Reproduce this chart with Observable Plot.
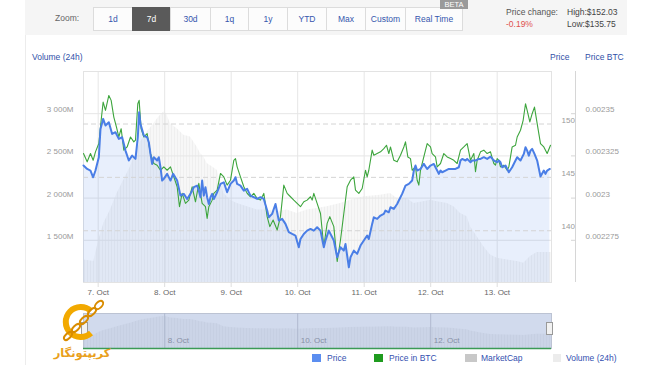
<!DOCTYPE html>
<html><head><meta charset="utf-8">
<script src="https://cdn.jsdelivr.net/npm/d3@7"></script>
<script src="https://cdn.jsdelivr.net/npm/@observablehq/plot@0.6"></script>
<style>
body{margin:0;background:#fff;font-family:"Liberation Sans",Arial,sans-serif;}
#root{position:relative;width:650px;height:365px;overflow:hidden;background:#fff;}
.abs{position:absolute;}
.btn{position:absolute;top:7px;height:22px;border:1px solid #dcdcdc;background:#fcfcfc;color:#3556ad;font-size:8.5px;display:flex;align-items:center;justify-content:center;box-sizing:content-box;}
.btn.on{background:#5a5a5a;color:#fff;border-color:#5a5a5a;}
.t{position:absolute;font-size:8.5px;white-space:nowrap;}
.layer{position:absolute;left:0;top:60px;}
.sq{position:absolute;top:354px;height:8px;}
</style></head><body>
<svg width="0" height="0" style="position:absolute"><defs>
<pattern id="vstripe" width="3" height="10" patternUnits="userSpaceOnUse">
<rect width="3" height="10" fill="rgba(0,0,0,0.032)"/><rect width="1" height="10" fill="rgba(0,0,0,0.03)"/>
</pattern></defs></svg>
<div id="root">
  <div class="abs" style="left:25px;top:0;width:1px;height:365px;background:#ececec"></div>
  <div class="abs" style="left:25px;top:0;width:602px;height:35px;background:#f5f5f5"></div>
  <div class="t" style="left:55px;top:13px;color:#666">Zoom:</div>
  <div class="btn" style="left:93px;width:38px">1d</div>
  <div class="btn on" style="left:132px;width:37px">7d</div>
  <div class="btn" style="left:170px;width:39px">30d</div>
  <div class="btn" style="left:210px;width:37px">1q</div>
  <div class="btn" style="left:248px;width:38px">1y</div>
  <div class="btn" style="left:287px;width:38px">YTD</div>
  <div class="btn" style="left:326px;width:38px">Max</div>
  <div class="btn" style="left:365px;width:39px">Custom</div>
  <div class="btn" style="left:405px;width:56px">Real Time</div>
  <div class="abs" style="left:440px;top:0;width:28px;height:9px;background:#9a9a9a;color:#fff;font-size:7.5px;line-height:9px;text-align:center">BETA</div>
  <div class="t" style="left:506px;top:7px;color:#555">Price change:</div>
  <div class="t" style="left:506px;top:19px;color:#e0514f">-0.19%</div>
  <div class="t" style="left:567px;top:7px;color:#444">High:$152.03</div>
  <div class="t" style="left:567px;top:19px;color:#444">Low:$135.75</div>
  <div class="t" style="left:32px;top:52px;color:#3050a8">Volume (24h)</div>
  <div class="t" style="left:550px;top:52px;color:#3050a8">Price</div>
  <div class="t" style="left:585px;top:52px;color:#3050a8">Price BTC</div>
  <div id="l1" class="layer"></div>
  <div id="l2" class="layer"></div>
  <div id="l3" class="layer"></div>
  <div id="l4" class="layer"></div>
  <div id="nav" class="abs" style="left:0;top:305px"></div>
  <div class="abs" style="left:81px;top:322px;width:5px;height:11px;background:#f2f2f2;border:1px solid #999"></div>
  <div class="abs" style="left:546px;top:322px;width:5px;height:11px;background:#f2f2f2;border:1px solid #999"></div>
  <svg class="abs" style="left:50px;top:296px" width="65" height="50">
    <path d="M41,15 A15,15 0 1,0 41,37" fill="none" stroke="#f2a900" stroke-width="6"/>
    <g fill="none" stroke="#d98c00" stroke-width="2">
      <ellipse cx="18" cy="40" rx="5" ry="2.5" transform="rotate(-45 18 40)"/>
      <ellipse cx="26" cy="32" rx="5" ry="2.5" transform="rotate(-45 26 32)"/>
      <ellipse cx="34" cy="24" rx="5" ry="2.5" transform="rotate(-45 34 24)"/>
      <ellipse cx="42" cy="16" rx="5" ry="2.5" transform="rotate(-45 42 16)"/>
      <ellipse cx="49" cy="9" rx="5" ry="3" transform="rotate(-45 49 9)"/>
    </g>
  </svg>
  <div class="abs" style="left:50px;top:346px;width:64px;text-align:center;direction:rtl;font-family:'DejaVu Sans';font-weight:bold;font-size:11.5px;color:#e9a01c">کریپتونگار</div>
  <div class="sq" style="left:312px;width:9px;background:#5b8ef0"></div>
  <div class="t" style="left:327px;top:353px;color:#3350b0">Price</div>
  <div class="sq" style="left:374px;width:9px;background:#1f9b1f"></div>
  <div class="t" style="left:389px;top:353px;color:#3350b0">Price in BTC</div>
  <div class="sq" style="left:465px;width:12px;background:#c8c8c8"></div>
  <div class="t" style="left:481px;top:353px;color:#3350b0">MarketCap</div>
  <div class="sq" style="left:553px;width:8px;background:#ececec"></div>
  <div class="t" style="left:566px;top:353px;color:#3350b0">Volume (24h)</div>
</div>
<script>
// hours from 7 Oct 00:00, price in USD
const priceSeries = [[-5.3,146.11],[-3.98,145.79],[-2.78,145.64],[-1.82,145.01],[-0.98,145.64],[0.23,146.89],[0.83,149.54],[1.79,150.48],[2.63,149.86],[3.84,150.17],[5.04,149.07],[6.24,149.23],[7.44,148.61],[8.65,148.76],[9.85,147.51],[11.05,146.58],[12.26,147.04],[13.46,146.73],[14.3,148.76],[14.78,151.10],[15.26,150.01],[16.47,148.92],[17.67,148.76],[18.27,148.29],[18.87,147.20],[19.47,146.26],[20.08,146.89],[21.28,146.58],[21.88,146.89],[22.48,145.95],[23.08,144.70],[23.69,144.86],[24.89,145.33],[26.09,144.70],[27.05,145.33],[28.5,144.70],[29.7,143.29],[30.9,143.45],[32.1,142.98],[33.3,143.45],[34.51,144.08],[35.71,144.23],[36.31,143.76],[36.92,143.14],[37.52,144.70],[38.12,143.29],[38.72,144.08],[39.32,143.14],[39.93,142.51],[40.53,143.14],[41.13,143.45],[41.73,142.98],[42.93,143.61],[44.14,144.39],[45.34,144.54],[46.54,143.61],[47.75,144.39],[48.95,144.70],[49.55,145.01],[50.15,144.39],[51.35,144.23],[52.56,143.76],[53.76,143.92],[54.96,143.29],[56.17,143.14],[57.37,142.98],[58.57,143.14],[59.77,142.98],[60.98,141.89],[61.58,141.26],[62.78,141.58],[63.99,142.51],[65.19,140.95],[66.39,141.11],[67.59,140.64],[68.8,139.86],[70.0,139.70],[71.2,139.55],[72.4,138.45],[73.01,139.23],[74.21,139.70],[75.41,140.01],[76.62,140.17],[77.82,140.01],[79.02,140.33],[80.23,140.01],[81.43,138.45],[82.03,139.08],[83.23,140.01],[85.04,139.08],[86.25,137.52],[87.45,138.45],[88.65,138.14],[89.25,138.76],[90.46,136.58],[91.06,137.52],[92.26,138.14],[93.46,137.83],[94.67,138.61],[95.87,139.08],[97.07,139.55],[97.67,139.23],[98.88,140.64],[99.48,141.26],[100.68,141.11],[101.89,141.42],[103.09,141.58],[103.69,141.89],[104.89,141.73],[105.49,142.20],[106.7,142.05],[107.9,142.51],[108.5,142.83],[109.7,143.45],[110.91,144.23],[112.11,144.39],[113.31,144.70],[113.92,145.64],[114.52,146.11],[115.12,145.64],[116.32,145.79],[117.52,146.26],[118.73,145.79],[119.93,146.11],[121.13,146.26],[122.34,145.64],[122.94,145.33],[123.54,145.64],[124.14,145.48],[125.34,145.64],[126.55,145.79],[127.75,145.79],[128.95,145.79],[130.16,145.95],[130.76,146.58],[131.36,146.73],[132.56,146.58],[133.16,146.73],[134.37,146.42],[134.97,146.58],[136.17,146.58],[137.37,146.73],[137.98,146.73],[139.18,146.89],[140.38,146.73],[141.58,146.95],[142.79,146.58],[143.99,146.42],[144.59,146.58],[145.19,146.42],[145.79,145.95],[147.0,146.11],[148.2,145.48],[149.4,145.95],[150.61,146.58],[151.21,146.89],[152.41,146.58],[153.61,147.20],[154.22,147.82],[154.82,147.51],[155.42,147.04],[156.02,147.51],[156.62,147.67],[157.46,147.20],[158.43,146.58],[159.63,145.08],[160.83,145.64],[161.43,145.33],[162.04,145.64],[163.0,145.79]];

// hours from 7 Oct 00:00, price in BTC
const btcSeries = [[-5.3,0.0023264],[-3.98,0.0023215],[-2.78,0.0023264],[-1.82,0.0023224],[-0.98,0.0023274],[0.23,0.0023323],[1.07,0.0023461],[1.79,0.0023569],[2.63,0.0023520],[3.84,0.0023608],[4.68,0.0023579],[5.64,0.0023480],[6.6,0.0023421],[7.44,0.0023362],[8.29,0.0023411],[9.25,0.0023284],[10.45,0.0023303],[11.66,0.0023362],[12.86,0.0023333],[13.46,0.0023343],[14.3,0.0023559],[14.78,0.0023579],[15.5,0.0023411],[16.47,0.0023362],[17.67,0.0023382],[18.87,0.0023264],[20.08,0.0023205],[21.28,0.0023195],[22.48,0.0023165],[23.69,0.0023185],[24.89,0.0023165],[26.09,0.0023185],[27.29,0.0023126],[28.5,0.0023067],[29.34,0.0022949],[30.3,0.0023028],[31.5,0.0022969],[32.71,0.0022988],[33.91,0.0023067],[35.11,0.0022978],[36.31,0.0023087],[37.52,0.0022969],[38.72,0.0022949],[39.32,0.0022880],[39.93,0.0022949],[41.13,0.0022988],[41.73,0.0023028],[42.93,0.0023047],[44.14,0.0023146],[45.34,0.0023126],[46.54,0.0023077],[47.75,0.0023106],[48.95,0.0023224],[49.55,0.0023234],[50.15,0.0023185],[51.35,0.0023126],[52.56,0.0023067],[53.76,0.0023028],[54.96,0.0023008],[56.17,0.0023028],[57.37,0.0022998],[58.57,0.0022988],[59.77,0.0023028],[60.98,0.0022890],[61.94,0.0022831],[63.14,0.0022870],[64.59,0.0022811],[65.79,0.0022890],[66.99,0.0023077],[68.2,0.0023028],[69.4,0.0023008],[70.6,0.0022988],[71.8,0.0022969],[73.01,0.0022949],[74.21,0.0022978],[75.41,0.0022988],[76.62,0.0023008],[77.22,0.0022988],[77.82,0.0023028],[79.02,0.0022969],[80.23,0.0022909],[81.43,0.0022713],[82.63,0.0022850],[83.59,0.0022890],[85.04,0.0022831],[86.25,0.0022624],[87.45,0.0022752],[88.65,0.0022909],[89.86,0.0023067],[91.06,0.0023106],[92.26,0.0023126],[92.86,0.0023047],[94.07,0.0023028],[95.27,0.0023057],[96.47,0.0023165],[97.07,0.0023126],[97.67,0.0023165],[98.88,0.0023284],[99.48,0.0023254],[100.68,0.0023264],[101.89,0.0023274],[103.09,0.0023293],[104.05,0.0023313],[104.89,0.0023264],[105.49,0.0023303],[106.7,0.0023224],[107.9,0.0023215],[109.1,0.0023254],[110.31,0.0023303],[110.91,0.0023333],[111.75,0.0023244],[112.71,0.0023234],[113.31,0.0023165],[114.52,0.0023185],[115.12,0.0023106],[115.72,0.0023077],[116.32,0.0023165],[117.52,0.0023244],[118.73,0.0023323],[119.93,0.0023303],[120.53,0.0023264],[121.73,0.0023244],[122.34,0.0023185],[123.54,0.0023205],[124.74,0.0023264],[125.95,0.0023244],[127.15,0.0023234],[128.35,0.0023224],[129.55,0.0023205],[130.76,0.0023284],[131.96,0.0023303],[133.16,0.0023323],[134.37,0.0023224],[135.57,0.0023264],[136.17,0.0023156],[136.77,0.0023224],[137.98,0.0023274],[139.18,0.0023284],[140.38,0.0023264],[141.58,0.0023274],[142.79,0.0023205],[143.39,0.0023195],[143.99,0.0023234],[144.59,0.0023224],[145.19,0.0023185],[146.4,0.0023195],[147.6,0.0023165],[148.2,0.0023185],[149.4,0.0023303],[150.61,0.0023313],[151.21,0.0023362],[152.41,0.0023402],[153.37,0.0023461],[154.22,0.0023559],[154.82,0.0023520],[155.78,0.0023451],[156.62,0.0023500],[157.46,0.0023539],[158.43,0.0023441],[159.63,0.0023323],[160.83,0.0023303],[162.04,0.0023264],[163.24,0.0023313]];

// hours from 7 Oct 00:00, volume (24h) in millions USD
const volumeSeries = [[-5.3,1267],[-1.58,1248],[0.23,1504],[2.03,1700],[4.44,1858],[6.84,2055],[9.25,2212],[11.66,2370],[13.46,2527],[15.26,2665],[17.67,2783],[20.08,2882],[21.88,2960],[23.69,3019],[24.65,2999],[26.09,2882],[28.5,2822],[30.9,2744],[33.3,2724],[35.71,2606],[36.92,2527],[38.12,2488],[39.32,2409],[41.13,2370],[42.93,2330],[45.34,2055],[47.75,1976],[50.15,1937],[53.76,1897],[57.37,1858],[60.98,1858],[64.59,1838],[68.2,1858],[71.8,1819],[75.41,1858],[79.02,1877],[82.63,1897],[87.45,1937],[91.06,1976],[95.87,2015],[101.89,2035],[105.49,2055],[107.9,1996],[111.51,1996],[113.92,1937],[117.52,1956],[119.93,1976],[122.34,1956],[125.95,1937],[128.35,1897],[130.76,1819],[133.16,1779],[134.37,1661],[136.77,1543],[139.18,1425],[141.58,1326],[143.99,1287],[147.6,1267],[151.21,1248],[153.61,1228],[156.02,1307],[158.43,1354],[163.6,1354]];

const dayHours = [0, 24, 48, 72, 96, 120, 144];
const navHours = [24, 72, 120];
const xRangeHours = [-5.3, 163.6];
const volumeTicks = [1500, 2000, 2500, 3000];
const volumeGrid = [1000, 1500, 2000, 2500, 3000, 3500];
const priceTicks = [140, 145, 150];
const btcTicks = [0.002275, 0.0023, 0.002325, 0.00235];
const volumeDomain = [1000, 3500];
const priceDomain = [135.15, 154.92];
const btcDomain = [0.00225, 0.002375];

const base = Date.UTC(2024, 9, 7);
const toDate = h => new Date(base + h * 3600e3);
const priceData = priceSeries.map(([h, p]) => ({date: toDate(h), p}));
const btcData = btcSeries.map(([h, b]) => ({date: toDate(h), b}));
const volData = volumeSeries.map(([h, v]) => ({date: toDate(h), v}));
const dayDates = dayHours.map(toDate);
const navDates = navHours.map(toDate);
const xDomain = xRangeHours.map(toDate);
const fmtDay = d => d.getUTCDate() + ". Oct";
const fmtVol = d => d3.format(",")(d).replace(/,/g, " ") + "M";

const style = {background: "transparent", fontFamily: "Liberation Sans, Arial, sans-serif", fontSize: "8px", overflow: "visible"};
const common = {width: 650, height: 245, marginTop: 11, marginBottom: 23, marginLeft: 83, marginRight: 99, style};
const xOpt = {type: "utc", domain: xDomain};

document.getElementById("l1").append(Plot.plot({
  ...common, x: {...xOpt}, y: {domain: volumeDomain},
  marks: [
    Plot.areaY(volData, {x: "date", y: "v", fill: "url(#vstripe)", clip: true}),
    Plot.gridY(volumeGrid, {stroke: "#e6e6e6", strokeOpacity: 1}),
    Plot.gridX(dayDates, {stroke: "#e6e6e6", strokeOpacity: 1}),
    Plot.frame({stroke: "#e3e3e3"}),
    Plot.axisX(dayDates, {tickSize: 5, tickPadding: 2, stroke: "#dedede", fill: "#666", fontSize: 8, tickFormat: fmtDay, label: null}),
    Plot.axisY(volumeTicks, {anchor: "left", tickSize: 0, tickPadding: 10, dy: -4, fill: "#9a9a9a", fontSize: 8, tickFormat: fmtVol, label: null})
  ]
}));

document.getElementById("l2").append(Plot.plot({
  ...common, x: {...xOpt, axis: null}, y: {domain: priceDomain},
  marks: [
    Plot.areaY(priceData, {x: "date", y: "p", fill: "#4f81e8", fillOpacity: 0.13, clip: true}),
    Plot.gridY(priceTicks, {stroke: "#d4d4d4", strokeOpacity: 1, strokeDasharray: "5,3"}),
    Plot.axisY(priceTicks, {anchor: "right", tickSize: 0, tickPadding: 10, dy: -4, fill: "#9a9a9a", fontSize: 8, label: null})
  ]
}));

document.getElementById("l3").append(Plot.plot({
  ...common, x: {...xOpt, axis: null}, y: {domain: btcDomain},
  marks: [
    Plot.ruleX([xDomain[1]], {dx: 24, stroke: "#d6d6d6"}),
    Plot.axisY(btcTicks, {anchor: "right", tickSize: 5, dx: 19, stroke: "#d6d6d6", tickFormat: () => "", label: null}),
    Plot.axisY(btcTicks, {anchor: "right", tickSize: 0, dx: 19, tickPadding: 15, dy: -4, fill: "#9a9a9a", fontSize: 8, tickFormat: d => String(d), label: null}),
    Plot.lineY(btcData, {x: "date", y: "b", stroke: "#3da53d", strokeWidth: 1.1})
  ]
}));

document.getElementById("l4").append(Plot.plot({
  ...common, x: {...xOpt, axis: null}, y: {domain: priceDomain, axis: null},
  marks: [
    Plot.lineY(priceData, {x: "date", y: "p", stroke: "#4a7ee6", strokeWidth: 2})
  ]
}));

document.getElementById("nav").append(Plot.plot({
  width: 650, height: 45, marginTop: 8, marginBottom: 2, marginLeft: 83, marginRight: 99, style,
  x: {...xOpt, axis: null}, y: {domain: [0, 3300], axis: null},
  marks: [
    Plot.areaY(volData, {x: "date", y: "v", fill: "url(#vstripe)"}),
    Plot.frame({fill: "#6685c2", fillOpacity: 0.3, stroke: "#bcc3d3"}),
    Plot.gridX(navDates, {stroke: "#b0b9cf", strokeOpacity: 1}),
    Plot.text(navDates, {x: d => d, frameAnchor: "bottom", dy: -6, dx: 3, textAnchor: "start", text: fmtDay, fill: "#8790a6", fontSize: 8}),
    Plot.ruleY([0], {stroke: "#3b9a55", strokeWidth: 1.5})
  ]
}));
</script>
</body></html>
